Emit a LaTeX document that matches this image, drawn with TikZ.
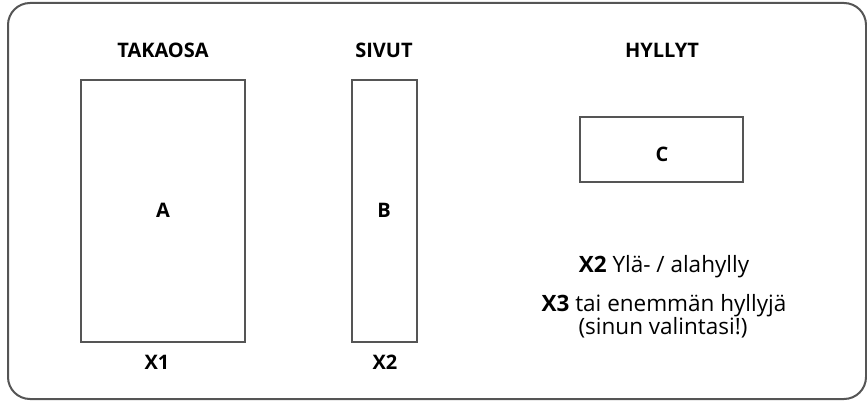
\documentclass[tikz,border=0pt]{standalone}
\usepackage{fontspec}
\setmainfont{Open Sans}
\definecolor{framegray}{HTML}{555555}
\tikzset{
  part/.style={draw=framegray, line width=1.4pt},
  title/.style={font=\fontsize{20}{24}\selectfont\bfseries, anchor=base},
  letter/.style={font=\fontsize{20}{24}\selectfont\bfseries, anchor=base},
  note/.style={font=\fontsize{22.5}{26}\selectfont, anchor=base}
}
\begin{document}
\begin{tikzpicture}[x=1pt, y=-1pt]
        \useasboundingbox (0,0) rectangle (867,401);
        \draw[framegray, line width=2pt, rounded corners=22pt] (8,3) rectangle (866,399);
        % panels
        \draw[part] (81,80) rectangle (245,342);
        \draw[part] (352,80) rectangle (417,342);
        \draw[part] (580,117) rectangle (743,182);
        \node[title] (takaosa) at (163,58) {TAKAOSA};
        \node[title] (sivut) at (384,58) {SIVUT};
        \node[title] (hyllyt) at (662,58) {HYLLYT};
        \node[letter] (a) at (163,217) {A};
        \node[letter] (b) at (384,217) {B};
        \node[letter] (c) at (662,161) {C};
        \node[letter] (x1) at (157,369) {X1};
        \node[letter] (x2) at (385,369) {X2};
        \node[note] (ylaala) at (664,272) {\textbf{X2} Ylä- / alahylly};
        \node[note] (enemman) at (664,311) {\textbf{X3} tai enemmän hyllyjä};
        \node[note] (valinta) at (663,334) {(sinun valintasi!)};
      \end{tikzpicture}
\end{document}
